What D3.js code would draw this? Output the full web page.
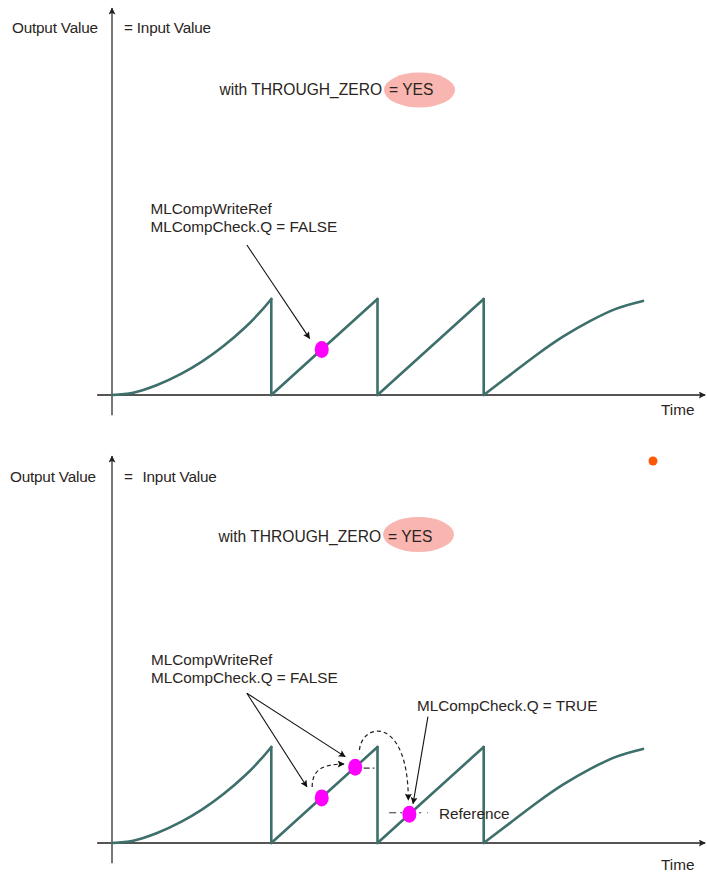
<!DOCTYPE html>
<html><head><meta charset="utf-8">
<script src="https://cdn.jsdelivr.net/npm/d3@7"></script>
<style>html,body{margin:0;padding:0;background:#fff;}svg{display:block;font-family:"Liberation Sans",Arial,sans-serif;}</style>
</head><body>
<script>
// ---- data (time units 0..10, value units 0..1) ----
const curveT = [0, 0.4, 0.85, 1.3, 1.7, 2.1, 2.5, 2.8, 3.0, 3.0, 5.0, 5.0, 7.0, 7.0, 7.5, 8.0, 8.5, 9.0, 9.5, 10.0];
const curveV = [0, 0.024, 0.105, 0.22, 0.35, 0.51, 0.70, 0.87, 1.0, 0.0, 1.0, 0.0, 1.0, 0.0, 0.21, 0.42, 0.61, 0.77, 0.90, 0.98];
const axisT = [-0.28, 11.17];
const topDotT = [3.95], topDotV = [0.475];
const botDotT = [3.95, 4.58, 5.6], botDotV = [0.47, 0.79, 0.30];
const topLabels = {y1: "Output Value", y2: "= Input Value", mode: "with THROUGH_ZERO", yes: "= YES", x: "Time",
  note: ["MLCompWriteRef", "MLCompCheck.Q = FALSE"]};
const botLabels = {y1: "Output Value", eq: "=", y2: "Input Value", mode: "with THROUGH_ZERO", yes: "= YES", x: "Time",
  note: ["MLCompWriteRef", "MLCompCheck.Q = FALSE"], trueNote: "MLCompCheck.Q = TRUE", ref: "Reference"};

const W = 707, H = 873;
const svg = d3.select("body").append("svg").attr("width", W).attr("height", H);
svg.append("rect").attr("width", W).attr("height", H).attr("fill", "#fff");

const defs = svg.append("defs");
defs.append("marker").attr("id", "axArrow").attr("viewBox", "0 0 10 10").attr("refX", 9).attr("refY", 5)
  .attr("markerWidth", 10).attr("markerHeight", 7).attr("markerUnits", "userSpaceOnUse").attr("orient", "auto")
  .append("path").attr("d", "M0,0 L10,5 L0,10 L2,5 z").attr("fill", "#222");
defs.append("marker").attr("id", "anArrow").attr("viewBox", "0 0 10 10").attr("refX", 9).attr("refY", 5)
  .attr("markerWidth", 9).attr("markerHeight", 7).attr("markerUnits", "userSpaceOnUse").attr("orient", "auto")
  .append("path").attr("d", "M0,0 L10,5 L0,10 L2,5 z").attr("fill", "#111");

const x = d3.scaleLinear().domain([0, 10]).range([112, 643]);
const TEAL = "#3d6f6b", TXT = "#2a2522", FS = 15.3;

function drawPanel(base) {
  const y = d3.scaleLinear().domain([0, 1]).range([base, base - 96]);
  const g = svg.append("g");
  g.append("line").attr("x1", x(axisT[0])).attr("x2", x(axisT[1])).attr("y1", y(0)).attr("y2", y(0))
    .attr("stroke", "#555").attr("stroke-width", 2).attr("marker-end", "url(#axArrow)");
  g.append("line").attr("x1", x(0)).attr("x2", x(0)).attr("y1", y(-0.21)).attr("y2", y(4.03))
    .attr("stroke", "#555").attr("stroke-width", 1.6).attr("marker-end", "url(#axArrow)");
  const pts = curveT.map((t, i) => [t, curveV[i]]);
  const runs = []; let cur = [pts[0]];
  for (let i = 1; i < pts.length; i++) {
    if (pts[i][0] === pts[i - 1][0]) {
      runs.push({type: "smooth", p: cur});
      runs.push({type: "drop", p: [pts[i - 1], pts[i]]});
      cur = [pts[i]];
    } else cur.push(pts[i]);
  }
  runs.push({type: "smooth", p: cur});
  const smooth = d3.line().x(d => x(d[0])).y(d => y(d[1])).curve(d3.curveCatmullRom.alpha(0.5));
  const straight = d3.line().x(d => x(d[0])).y(d => y(d[1]));
  runs.forEach(r => {
    g.append("path").attr("d", (r.type === "smooth" ? smooth : straight)(r.p)).attr("fill", "none")
      .attr("stroke", TEAL).attr("stroke-width", 2.6).attr("stroke-linejoin", "round").attr("stroke-linecap", "round");
  });
  return {g, y};
}

function text(g, s, px, py, extra, fs) {
  const t = g.append("text").attr("x", px).attr("y", py).attr("font-size", fs || FS).attr("fill", TXT).text(s);
  if (extra) t.attr("letter-spacing", extra);
  return t;
}

// ---------- top panel ----------
{
  const {g, y} = drawPanel(395);
  text(g, topLabels.y1, 12, 33, "-0.2px");
  text(g, topLabels.y2, 124, 33, "-0.2px");
  g.append("ellipse").attr("cx", 419.5).attr("cy", 90).attr("rx", 35.5).attr("ry", 17.5).attr("fill", "#f9b6b0");
  text(g, topLabels.mode, 219.5, 95, null, 15.6);
  text(g, topLabels.yes, 389, 95, null, 15.6);
  text(g, topLabels.x, 661, 415);
  text(g, topLabels.note[0], 150.5, 214);
  text(g, topLabels.note[1], 150.5, 231.5);
  g.append("line").attr("x1", x(2.54)).attr("y1", y(1.5625)).attr("x2", x(3.72)).attr("y2", y(0.59))
    .attr("stroke", "#111").attr("stroke-width", 1.1).attr("marker-end", "url(#anArrow)");
  g.selectAll(".dot").data(topDotT).enter().append("ellipse")
    .attr("cx", d => x(d)).attr("cy", (d, i) => y(topDotV[i])).attr("rx", 7).attr("ry", 8.5).attr("fill", "#ff00ff");
}

// ---------- bottom panel ----------
{
  const {g, y} = drawPanel(843);
  text(g, botLabels.y1, 10, 482, "-0.2px");
  text(g, botLabels.eq, 124, 482);
  text(g, botLabels.y2, 142.5, 482, "-0.2px");
  g.append("ellipse").attr("cx", 418.5).attr("cy", 534.5).attr("rx", 35.5).attr("ry", 17.5).attr("fill", "#f9b6b0");
  text(g, botLabels.mode, 218.5, 542, null, 15.6);
  text(g, botLabels.yes, 388, 542, null, 15.6);
  text(g, botLabels.x, 661, 870);
  text(g, botLabels.note[0], 151, 665);
  text(g, botLabels.note[1], 151, 682.5);
  text(g, botLabels.trueNote, 417, 711);
  text(g, botLabels.ref, 439, 818.5);

  [[2.54, 1.56, 3.67, 0.586], [2.54, 1.56, 4.39, 0.90], [5.95, 1.316, 5.67, 0.41]].forEach(a => {
    g.append("line").attr("x1", x(a[0])).attr("y1", y(a[1])).attr("x2", x(a[2])).attr("y2", y(a[3]))
      .attr("stroke", "#111").attr("stroke-width", 1.1).attr("marker-end", "url(#anArrow)");
  });
  g.append("line").attr("x1", x(4.74)).attr("x2", x(4.94)).attr("y1", y(0.78)).attr("y2", y(0.78))
    .attr("stroke", "#333").attr("stroke-width", 1.1).attr("stroke-dasharray", "6,3,2,3");
  g.append("line").attr("x1", x(5.22)).attr("x2", x(5.95)).attr("y1", y(0.315)).attr("y2", y(0.315))
    .attr("stroke", "#333").attr("stroke-width", 1.1).attr("stroke-dasharray", "7,4,2,6");
  const arc1 = d3.path();
  arc1.moveTo(x(3.77), y(0.583));
  arc1.bezierCurveTo(x(3.77), y(0.76), x(3.95), y(0.82), x(4.37), y(0.823));
  g.append("path").attr("d", arc1.toString()).attr("fill", "none").attr("stroke", "#222")
    .attr("stroke-width", 1.2).attr("stroke-dasharray", "4,3").attr("marker-end", "url(#anArrow)");
  const arc2 = d3.path();
  arc2.moveTo(x(4.66), y(0.969));
  arc2.bezierCurveTo(x(4.71), y(1.26), x(5.58), y(1.33), x(5.58), y(0.448));
  g.append("path").attr("d", arc2.toString()).attr("fill", "none").attr("stroke", "#222")
    .attr("stroke-width", 1.2).attr("stroke-dasharray", "4,3").attr("marker-end", "url(#anArrow)");

  g.selectAll(".dot").data(botDotT).enter().append("ellipse")
    .attr("cx", d => x(d)).attr("cy", (d, i) => y(botDotV[i])).attr("rx", 7).attr("ry", 8.5).attr("fill", "#ff00ff");
}

svg.append("circle").attr("cx", 653).attr("cy", 461).attr("r", 4.5).attr("fill", "#fe5a04");
</script>
</body></html>
